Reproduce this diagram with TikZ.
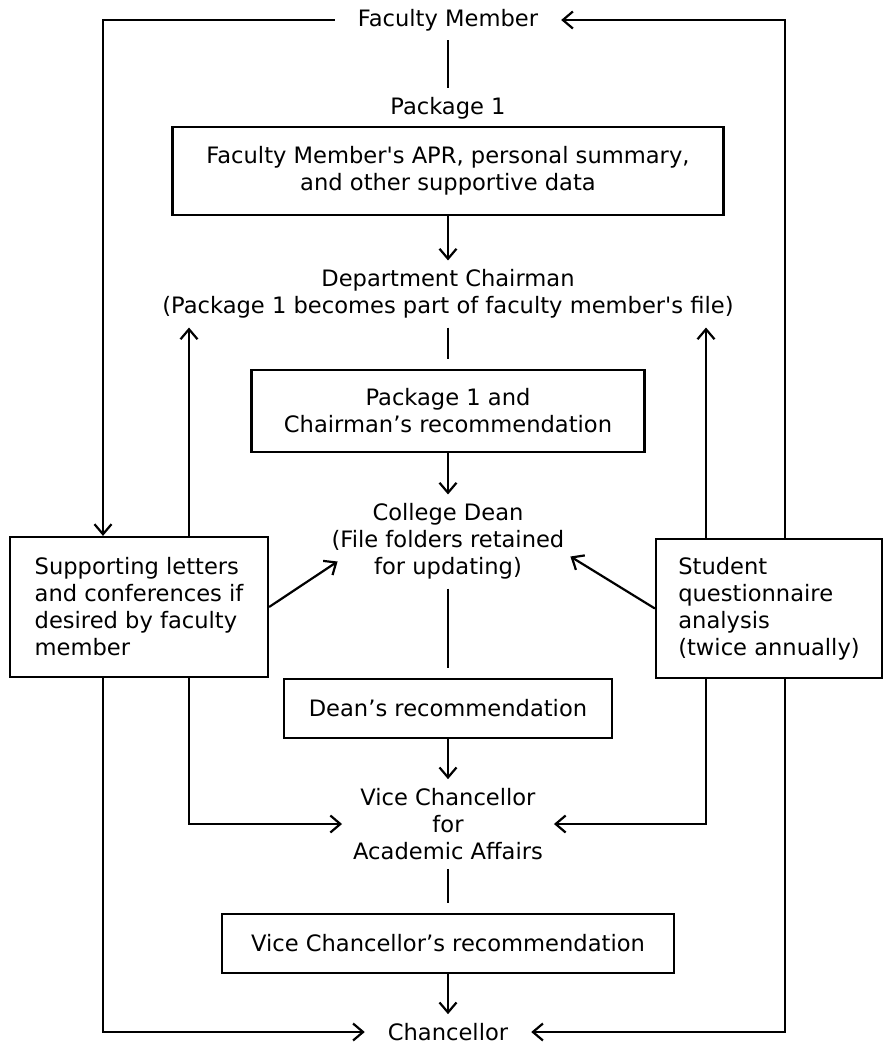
\documentclass[tikz,border=0pt]{standalone}
\usepackage{fontspec}
\setmainfont{DejaVu Sans}
\usetikzlibrary{arrows.meta}

\begin{document}
\begin{tikzpicture}[x=0.5pt,y=-0.5pt,line width=1.1pt,
every node/.style={font=\fontsize{11.3}{13.5}\selectfont},
stage/.style={align=center,inner xsep=5pt,inner ysep=4pt},
box/.style={draw,align=center,inner sep=0pt},
sidebox/.style={draw,align=left,inner sep=0pt},
arr/.style={-{Straight Barb[length=5pt,width=8.5pt]}},
short/.style={shorten >=5pt}]
\useasboundingbox (0,0) rectangle (886,1045);
%
\node[stage,inner xsep=11pt] (fm) at (448,20) {Faculty Member};
\node[stage] (pkg) at (448,108) {Package 1};
\node[box,minimum width=275.5pt,minimum height=44pt] (b1) at (448,171)
  {Faculty Member\textquotesingle s APR, personal summary,\\and other supportive data};
\node[stage] (dc) at (448,294)
  {Department Chairman\\(Package 1 becomes part of faculty member\textquotesingle s file)};
\node[box,minimum width=196.5pt,minimum height=41pt] (b2) at (448,411)
  {Package 1 and\\Chairman’s recommendation};
\node[stage] (cd) at (448,541.5) {College Dean\\(File folders retained\\for updating)};
\node[box,minimum width=164pt,minimum height=29.5pt] (dean) at (448,708.5) {Dean’s recommendation};
\node[stage] (vc) at (448,824) {Vice Chancellor\\for\\Academic Affairs};
\node[box,minimum width=226pt,minimum height=29.5pt] (vcr) at (448,943.5) {Vice Chancellor’s recommendation};
\node[stage,inner xsep=11pt] (ch) at (448,1032) {Chancellor};

% side boxes
\node[sidebox,minimum width=129pt,minimum height=70pt] (sup) at (139,607)
  {Supporting letters\\and conferences if\\desired by faculty\\member};
\node[sidebox,minimum width=113pt,minimum height=69.5pt] (rq) at (769,608.5)
  {Student\\questionnaire\\analysis\\(twice annually)};

% columns
\coordinate (xl) at (103,0);
\coordinate (xli) at (189,0);
\coordinate (xri) at (706,0);
\coordinate (xr) at (785,0);

% main line
\draw (fm.south) -- (pkg.north);
\draw[arr] (b1.south) -- (dc.north);
\draw[short] (dc.south) -- (b2.north);
\draw[arr] (b2.south) -- (cd.north);
\draw[short] (cd.south) -- (dean.north);
\draw[arr] (dean.south) -- (vc.north);
\draw[short] (vc.south) -- (vcr.north);
\draw[arr] (vcr.south) -- (ch.north);

% loops
\draw[arr] (fm.west) -| (xl |- sup.north);
\draw[arr] (xr |- rq.north) |- (fm.east);
\draw[arr] (xli |- sup.north) -- (xli |- dc.south);
\draw[arr] (xri |- rq.north) -- (xri |- dc.south);
\draw[arr] (sup.east) -- ([shift={(17,20)}]cd.west);
\draw[arr] (rq.west) -- ([shift={(-5,15)}]cd.east);
\draw[arr] (xli |- sup.south) |- (vc.west);
\draw[arr] (xri |- rq.south) |- (vc.east);
\draw[arr] (xl |- sup.south) |- (ch.west);
\draw[arr] (xr |- rq.south) |- (ch.east);

\end{tikzpicture}
\end{document}
